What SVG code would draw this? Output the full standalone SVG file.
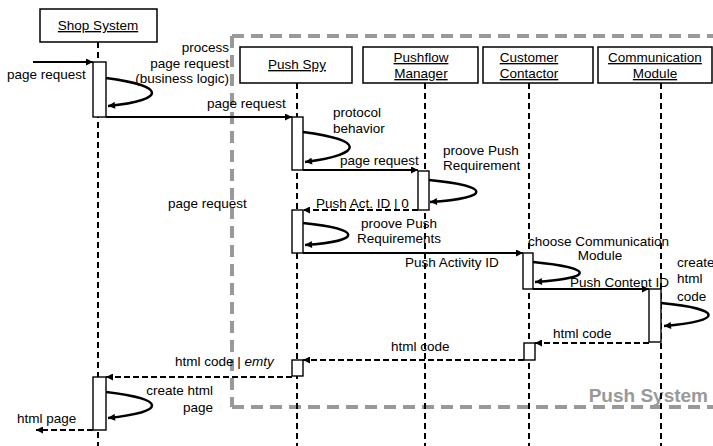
<svg xmlns="http://www.w3.org/2000/svg" width="713" height="446" viewBox="0 0 713 446">
<style>
text{font-family:"Liberation Sans",Arial,sans-serif;font-size:13.5px;fill:#000}
.hd{text-anchor:middle;text-decoration:underline}
.box{fill:#fff;stroke:#000;stroke-width:1.5}
.act{fill:#fff;stroke:#000;stroke-width:1.4}
.life{stroke:#000;stroke-width:2;stroke-dasharray:6 4;fill:none}
.msg{stroke:#000;stroke-width:2;fill:none}
.ret{stroke:#000;stroke-width:2;stroke-dasharray:6 3;fill:none}
.loop{stroke:#000;stroke-width:2.5;fill:none}
</style>
<defs>
<marker id="ah" viewBox="0 0 10 10" refX="10" refY="5" markerWidth="9" markerHeight="7" markerUnits="userSpaceOnUse" orient="auto"><path d="M0,0 L10,5 L0,10 z" fill="#000"/></marker>
</defs>
<rect x="0" y="0" width="713" height="446" fill="#fff"/>
<g id="push-system">
<path d="M232,36 H720 M232,36 V407 M232,407 H720" stroke="#999" stroke-width="4" stroke-dasharray="12 7" fill="none"/>
<text x="708" y="402" text-anchor="end" style="font-size:19px;font-weight:bold;fill:#999">Push System</text>
</g>
<g id="lifelines">
<line class="life" x1="98" y1="42" x2="98" y2="446"/>
<line class="life" x1="297" y1="83" x2="297" y2="446"/>
<line class="life" x1="425" y1="83" x2="425" y2="446"/>
<line class="life" x1="529" y1="83" x2="529" y2="446"/>
<line class="life" x1="661" y1="83" x2="661" y2="446"/>
</g>
<g id="shop-system">
<rect class="box" x="40" y="9" width="117" height="33"/>
<text class="hd" x="98" y="30">Shop System</text>
</g>
<g id="push-spy">
<rect class="box" x="240" y="47" width="112" height="36"/>
<text class="hd" x="297" y="69">Push Spy</text>
</g>
<g id="pushflow-manager">
<rect class="box" x="363" y="47" width="115" height="36"/>
<text class="hd" x="421" y="62">Pushflow</text>
<text class="hd" x="421" y="78">Manager</text>
</g>
<g id="customer-contactor">
<rect class="box" x="483" y="47" width="110" height="36"/>
<text class="hd" x="529" y="62">Customer</text>
<text class="hd" x="529" y="78">Contactor</text>
</g>
<g id="communication-module">
<rect class="box" x="598" y="47" width="114" height="36"/>
<text class="hd" x="655" y="62">Communication</text>
<text class="hd" x="655" y="78">Module</text>
</g>
<g id="activations">
<rect class="act" x="93" y="62" width="13" height="55"/>
<rect class="act" x="292" y="117" width="11" height="53"/>
<rect class="act" x="418" y="171" width="11" height="39"/>
<rect class="act" x="292" y="210" width="11" height="43"/>
<rect class="act" x="523" y="253" width="10" height="36"/>
<rect class="act" x="649" y="289" width="12" height="53"/>
<rect class="act" x="524" y="343" width="11" height="17"/>
<rect class="act" x="292" y="360" width="11" height="16"/>
<rect class="act" x="93" y="377" width="13" height="53"/>
</g>
<g id="connectors">
<line class="msg" x1="33" y1="62" x2="93" y2="62" marker-end="url(#ah)"/>
<path class="loop" d="M106,78 C167,86 167,100 108,106" marker-end="url(#ah)"/>
<line class="msg" x1="106" y1="117" x2="292" y2="117" marker-end="url(#ah)"/>
<path class="loop" d="M303,132 C365,140 365,154 305,162" marker-end="url(#ah)"/>
<line class="msg" x1="303" y1="170" x2="418" y2="170" marker-end="url(#ah)"/>
<path class="loop" d="M429,180 C492,186 492,198 430,202" marker-end="url(#ah)"/>
<line class="ret" x1="418" y1="210" x2="303" y2="210" marker-end="url(#ah)"/>
<path class="loop" d="M303,223 C363,229 363,241 305,245" marker-end="url(#ah)"/>
<line class="msg" x1="303" y1="253" x2="523" y2="253" marker-end="url(#ah)"/>
<path class="loop" d="M533,262 C595,268 595,278 535,282" marker-end="url(#ah)"/>
<line class="msg" x1="533" y1="289" x2="649" y2="289" marker-end="url(#ah)"/>
<path class="loop" d="M661,303 C724,309 724,321 664,326" marker-end="url(#ah)"/>
<line class="ret" x1="649" y1="343" x2="535" y2="343" marker-end="url(#ah)"/>
<line class="ret" x1="524" y1="360" x2="303" y2="360" marker-end="url(#ah)"/>
<line class="ret" x1="292" y1="377" x2="106" y2="377" marker-end="url(#ah)"/>
<path class="loop" d="M106,392 C167,399 167,412 108,418" marker-end="url(#ah)"/>
<line class="ret" x1="93" y1="430" x2="36" y2="430" marker-end="url(#ah)"/>
</g>
<g id="labels">
<text x="7" y="79">page request</text>
<text x="229" y="52" text-anchor="end">process</text>
<text x="229" y="68" text-anchor="end">page request</text>
<text x="229" y="83" text-anchor="end">(business logic)</text>
<text x="207" y="108">page request</text>
<text x="333" y="117">protocol</text>
<text x="333" y="133">behavior</text>
<text x="340" y="165">page request</text>
<text x="443" y="155">proove Push</text>
<text x="443" y="170">Requirement</text>
<text x="168" y="208">page request</text>
<text x="316" y="208">Push Act. ID | 0</text>
<text x="399" y="228" text-anchor="middle">proove Push</text>
<text x="399" y="243" text-anchor="middle">Requirements</text>
<text x="405" y="267">Push Activity ID</text>
<text x="528" y="246">choose Communication</text>
<text x="600" y="260" text-anchor="middle">Module</text>
<text x="570" y="287">Push Content ID</text>
<text x="677" y="267">create</text>
<text x="677" y="283">html</text>
<text x="677" y="301">code</text>
<text x="553" y="338">html code</text>
<text x="391" y="351">html code</text>
<text x="175" y="366">html code | <tspan font-style="italic">emty</tspan></text>
<text x="213" y="395" text-anchor="end">create html</text>
<text x="213" y="412" text-anchor="end">page</text>
<text x="17" y="423">html page</text>
</g>
</svg>
